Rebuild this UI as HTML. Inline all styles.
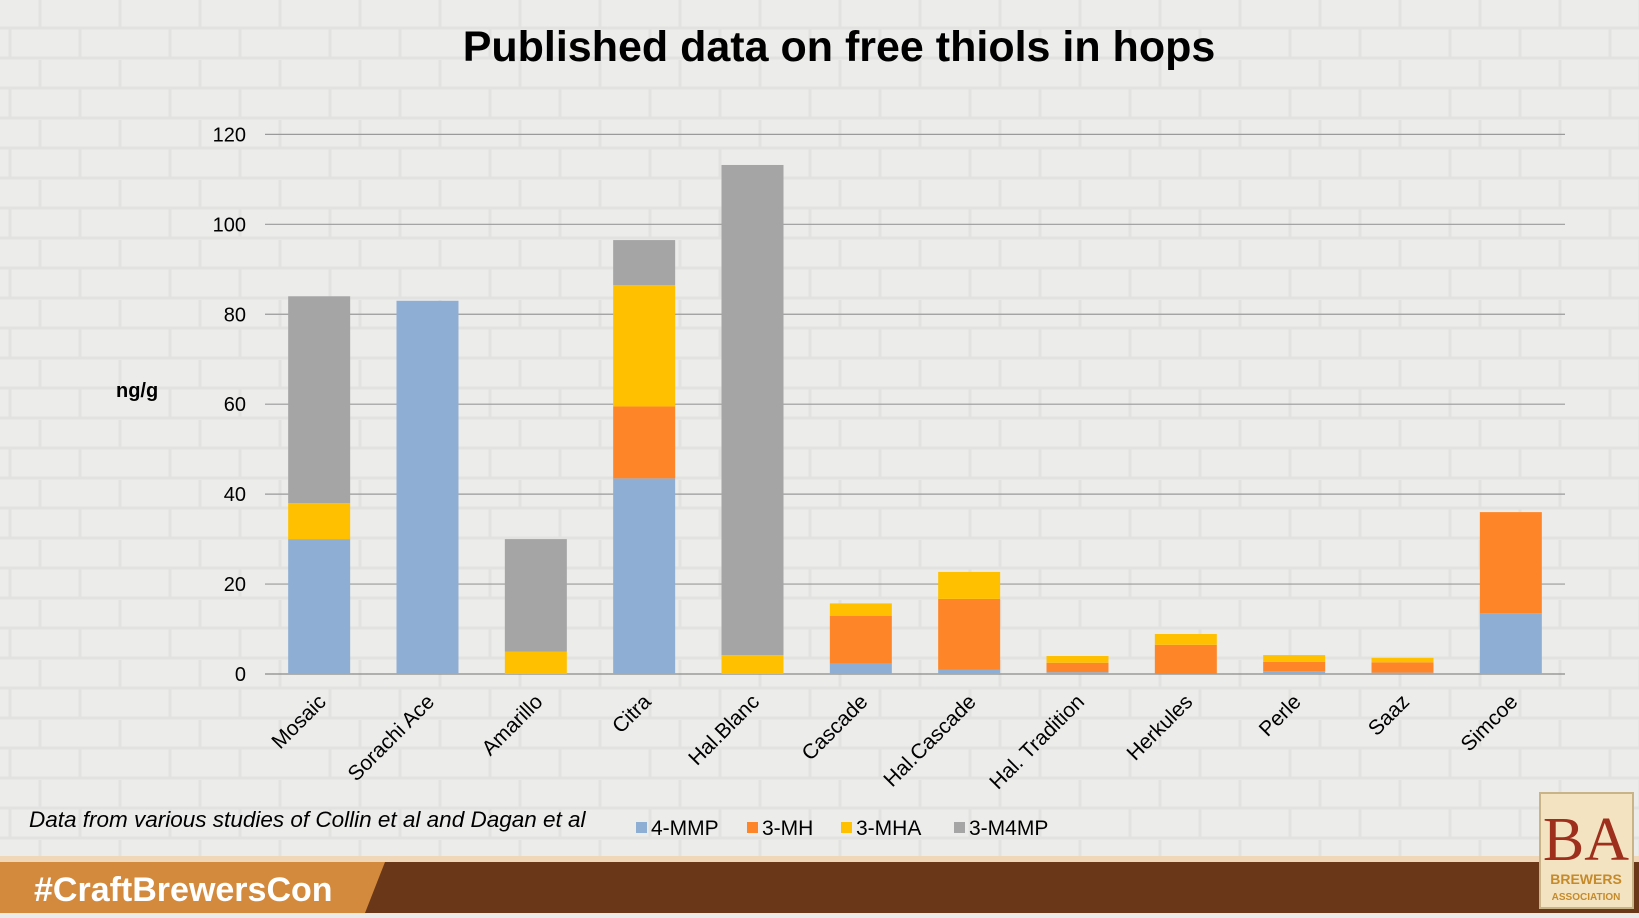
<!DOCTYPE html>
<html><head><meta charset="utf-8"><style>
html,body{margin:0;padding:0;}
body{width:1639px;height:913px;overflow:hidden;background:#ebebea;font-family:"Liberation Sans",sans-serif;}
</style></head><body>
<svg id="chart" width="1639" height="913" xmlns="http://www.w3.org/2000/svg">
<defs>
<pattern id="stone" width="160" height="60" patternUnits="userSpaceOnUse">
<rect width="160" height="60" fill="#ececeb"/>
<path d="M0 28 H160 M0 58 H160 M40 0 V28 M120 0 V28 M80 28 V58 M10 28 V58" stroke="#e2e2e1" stroke-width="3" fill="none"/>
</pattern>
</defs>
<rect width="1639" height="913" fill="url(#stone)"/>
<text x="839" y="61" text-anchor="middle" font-size="43" font-weight="bold" fill="#000">Published data on free thiols in hops</text>
<text x="116" y="397" font-size="20" font-weight="bold" fill="#000">ng/g</text>
<g id="grid"></g><g id="bars"></g><g id="xlabels"></g>
<text x="29" y="827" font-size="22.5" font-style="italic" fill="#000">Data from various studies of Collin et al and Dagan et al</text>
<g id="legend"></g>
<rect x="0" y="856" width="1639" height="6" fill="#f0d7b8"/>
<rect x="0" y="862" width="1639" height="51" fill="#6a3719"/>
<polygon points="0,862 385,862 365,913 0,913" fill="#d48a3c"/>
<text x="34" y="901" font-size="34" font-weight="bold" fill="#fff">#CraftBrewersCon</text>
<g>
<rect x="1540" y="793" width="93" height="115" fill="#f3e3c0" stroke="#c9b48a" stroke-width="2"/>
<text x="1586" y="860" text-anchor="middle" font-family="Liberation Serif,serif" font-size="62" fill="#9e2f1d">BA</text>
<text x="1586" y="884" text-anchor="middle" font-size="14" font-weight="bold" fill="#c58a2a">BREWERS</text>
<text x="1586" y="900" text-anchor="middle" font-size="10" font-weight="bold" fill="#c58a2a">ASSOCIATION</text>
</g>
</svg>
<script>
const categories=["Mosaic","Sorachi Ace","Amarillo","Citra","Hal.Blanc","Cascade","Hal.Cascade","Hal. Tradition","Herkules","Perle","Saaz","Simcoe"];
const seriesNames=["4-MMP","3-MH","3-MHA","3-M4MP"];
const mmp=[30,83,0,43.5,0,2.3,1,0.4,0,0.6,0.3,13.5];
const mh=[0,0,0,16,0,10.6,15.7,2.1,6.5,2.1,2.3,22.5];
const mha=[8,0,5,27,4.2,2.8,6,1.5,2.4,1.5,1,0];
const m4mp=[46,0,25,10,109,0,0,0,0,0,0,0];
const yTicks=[0,20,40,60,80,100,120];
const colors=["#8faed3","#ff8628","#ffc000","#a5a5a5"];
const NS="http://www.w3.org/2000/svg";
const X0=265,X1=1565,Y0=674,Y120=134.4;
const y=v=>Y0-(v/120)*(Y0-Y120);
const step=(X1-X0)/categories.length;
const cx=i=>X0+step*(i+0.5);
const BW=62;
function mk(t,a){const e=document.createElementNS(NS,t);for(const k in a)e.setAttribute(k,a[k]);return e;}
const grid=document.getElementById('grid');
yTicks.forEach(t=>{
 const l=mk('line',{x1:X0,x2:X1,y1:y(t),y2:y(t),stroke:t===0?'#8a8a8a':'#9a9a9a','stroke-width':1.2});
 
 
 grid.appendChild(l);
 const tx=mk('text',{x:246,y:y(t)+7,'text-anchor':'end','font-size':20,fill:'#000'});
 tx.textContent=t;
 
 
 grid.appendChild(tx);
});
const bars=document.getElementById('bars');
const all=[mmp,mh,mha,m4mp];
categories.forEach((c,i)=>{
 let base=0;
 all.forEach((s,k)=>{
  const v=s[i]; if(v<=0) return;
  const r=mk('rect',{x:cx(i)-BW/2,y:y(base+v),width:BW,height:y(base)-y(base+v),fill:colors[k]});
  
  
  bars.appendChild(r);
  base+=v;
 });
 const ax=cx(i)+8, ay=703;
 const t=mk('text',{x:ax,y:ay,'text-anchor':'end','font-size':21,fill:'#000',transform:`rotate(-45 ${ax} ${ay})`});
 t.textContent=c;
 
 
 document.getElementById('xlabels').appendChild(t);
});
const lg=document.getElementById('legend');
const lx=[636,747,841,954];
seriesNames.forEach((n,k)=>{
 const g=mk('g',{});
 
 
 g.appendChild(mk('rect',{x:lx[k],y:822,width:11,height:11,fill:colors[k]}));
 const t=mk('text',{x:lx[k]+15,y:835,'font-size':21,fill:'#000'});
 t.textContent=n; g.appendChild(t);
 lg.appendChild(g);
});
</script>
</body></html>
